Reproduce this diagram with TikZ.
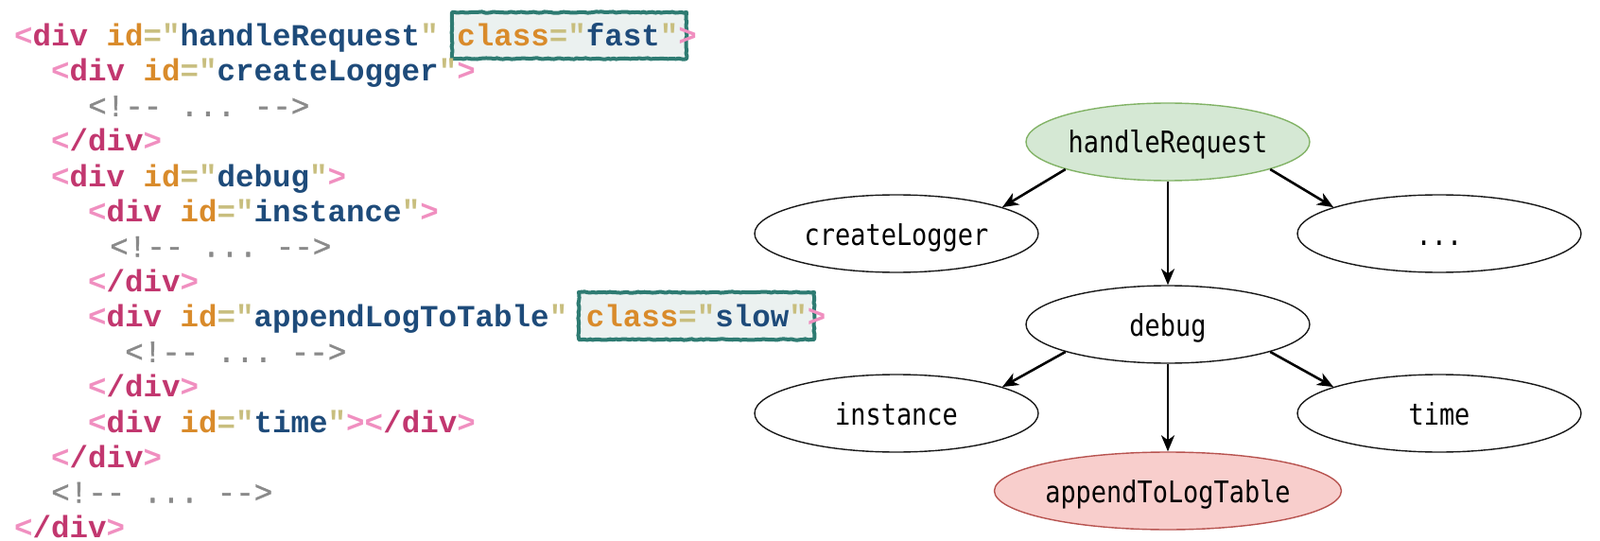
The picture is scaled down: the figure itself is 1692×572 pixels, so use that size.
\documentclass[tikz,border=0pt]{standalone}
\usepackage{fontspec}
\usetikzlibrary{shapes.geometric,arrows.meta,decorations.pathmorphing}
\newfontfamily\codefont{Liberation Mono}
\newfontfamily\cmtfont[FakeBold=1.2]{Liberation Mono}
\newfontfamily\gfont[FakeStretch=0.855]{DejaVu Sans Mono}
\definecolor{cpink}{HTML}{F08FC0}
\definecolor{cdiv}{HTML}{C2376F}
\definecolor{corange}{HTML}{D98B2B}
\definecolor{ckhaki}{HTML}{C8BE7E}
\definecolor{cblue}{HTML}{1E4B7A}
\definecolor{cgrey}{HTML}{8A8A8A}
\definecolor{cteal}{HTML}{2E7B72}
\definecolor{cboxfill}{HTML}{EBF1F0}
\definecolor{gfill}{HTML}{D5E8D4}
\definecolor{gline}{HTML}{82B366}
\definecolor{rfill}{HTML}{F8CECC}
\definecolor{rline}{HTML}{B85450}
\newcommand\po{\textcolor{cpink}{<}}
\newcommand\pc{\textcolor{cpink}{>}}
\newcommand\dv{\textcolor{cdiv}{div}}
\newcommand\csl{\textcolor{cdiv}{/}}
\newcommand\attr[2]{\textcolor{corange}{#1}\textcolor{ckhaki}{="}\textcolor{cblue}{#2}\textcolor{ckhaki}{"}}
\newcommand\cmt{<!-{}- ... -{}->}
\frenchspacing
\begin{document}
\begin{tikzpicture}[x=1pt,y=-1pt,
  codeline/.style={anchor=base west, inner sep=0pt, font=\fontsize{32.5pt}{39pt}\codefont\bfseries},
  cmtline/.style={anchor=base west, inner sep=0pt, text=cgrey, font=\fontsize{32.5pt}{39pt}\cmtfont},
  hlbox/.style={draw=cteal, fill=cboxfill, line width=4pt, line join=round,
    decorate, decoration={random steps, segment length=3pt, amplitude=0.6pt}},
  gnode/.style={ellipse, draw=black!90, line width=1.4pt, minimum width=300pt, minimum height=82pt,
    inner sep=0pt, text height=24pt, text depth=0pt, font=\fontsize{31.5pt}{36pt}\gfont},
  arr/.style={draw=black, line width=2.6pt, -{Stealth[length=17pt,width=14pt,inset=5pt]}}
]
\fill[white] (0,0) rectangle (1692,572);
\useasboundingbox (0,0) rectangle (1692,572);
% highlight boxes
\draw[hlbox] (478,13) rectangle (726,62);
\draw[hlbox] (612,309) rectangle (861,359);
% code lines
\node[codeline] (l1) at (15,48.5) {\po\dv\ \attr{id}{handleRequest}\ \attr{class}{fast}\pc};
\node[codeline] (l2) at (54,85.64) {\po\dv\ \attr{id}{createLogger}\pc};
\node[cmtline] (l3) at (93,122.78) {\cmt};
\node[codeline] (l4) at (54,159.92) {\po\csl\dv\pc};
\node[codeline] (l5) at (54,197.06) {\po\dv\ \attr{id}{debug}\pc};
\node[codeline] (l6) at (93,234.2) {\po\dv\ \attr{id}{instance}\pc};
\node[cmtline] (l7) at (116,271.34) {\cmt};
\node[codeline] (l8) at (93,308.48) {\po\csl\dv\pc};
\node[codeline] (l9) at (93,345.62) {\po\dv\ \attr{id}{appendLogToTable}\ \attr{class}{slow}\pc};
\node[cmtline] (l10) at (132,382.76) {\cmt};
\node[codeline] (l11) at (93,419.9) {\po\csl\dv\pc};
\node[codeline] (l12) at (93,457.04) {\po\dv\ \attr{id}{time}\pc\po\csl\dv\pc};
\node[codeline] (l13) at (54,494.18) {\po\csl\dv\pc};
\node[cmtline] (l14) at (54,531.32) {\cmt};
\node[codeline] (l15) at (15,568.2) {\po\csl\dv\pc};
% graph
\node[gnode, fill=gfill, draw=gline] (hr) at (1235,150) {handleRequest};
\node[gnode] (cl) at (948,247) {createLogger};
\node[gnode] (dots) at (1522,247) {...};
\node[gnode] (dbg) at (1235,343) {debug};
\node[gnode] (inst) at (948,437) {instance};
\node[gnode] (tm) at (1522,437) {time};
\node[gnode, fill=rfill, draw=rline] (app) at (1235,519) {appendToLogTable};
\draw[arr] (hr.195) -- (cl.14);
\draw[arr] (hr.-15) -- (dots.166);
\draw[arr] (hr) -- (dbg);
\draw[arr] (dbg.195) -- (inst.14);
\draw[arr] (dbg.-15) -- (tm.166);
\draw[arr] (dbg) -- (app);
\end{tikzpicture}
\end{document}
